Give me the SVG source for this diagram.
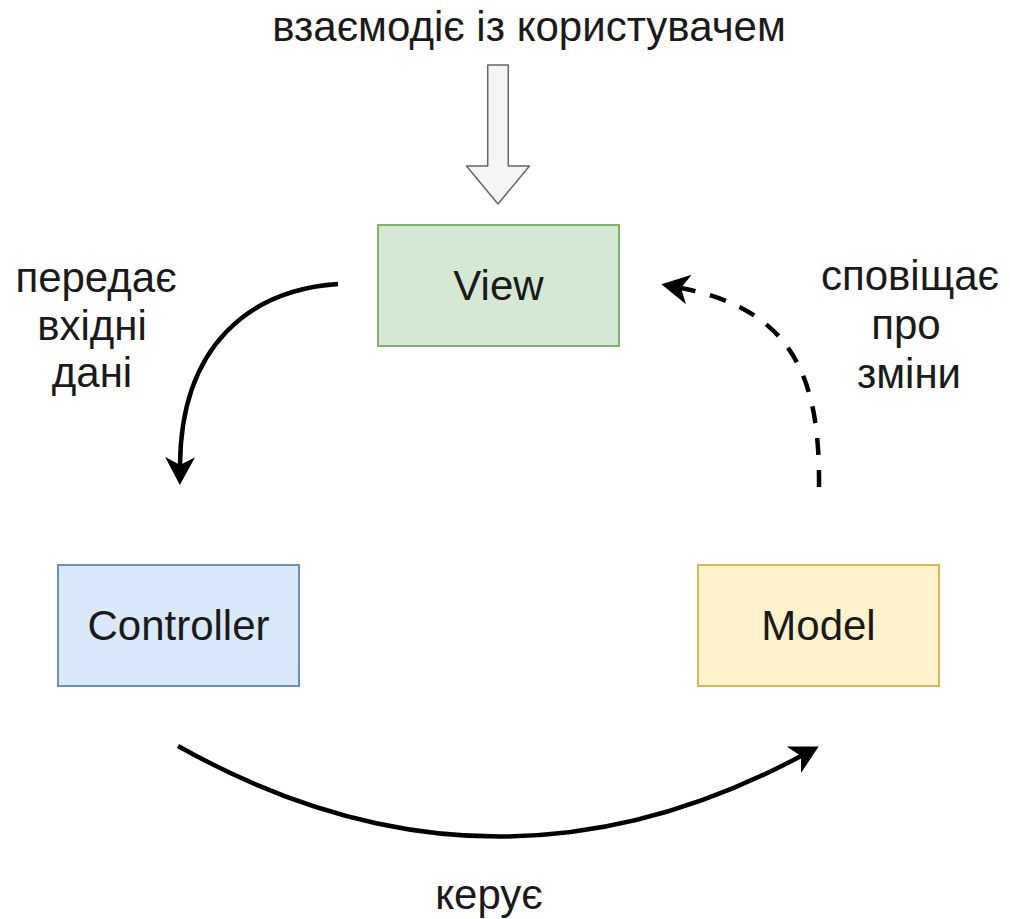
<svg xmlns="http://www.w3.org/2000/svg" width="1010" height="919" viewBox="0 0 1010 919">
  <style>
    text { font-family: "Liberation Sans", Arial, Helvetica, sans-serif; font-size: 42px; fill: #1a1a1a; text-anchor: middle; }
    .box { stroke-width: 2; }
    .edge { fill: none; stroke: #000000; stroke-width: 4.5; }
    .dashed { stroke-dasharray: 17 15; }
  </style>
  <defs>
    <marker id="arr" markerUnits="userSpaceOnUse" markerWidth="30" markerHeight="32" viewBox="0 0 30 32" refX="8" refY="16" orient="auto">
      <path d="M0,1 L28,16 L0,31 L8,16 Z" fill="#000000" stroke="none"/>
    </marker>
  </defs>
  <rect width="1010" height="919" fill="#ffffff"/>

  <g id="user-label">
    <text x="529" y="41">взаємодіє із користувачем</text>
  </g>

  <g id="user-arrow">
    <polygon points="487.7,65 508.3,65 508.3,166 529.5,166 498,204 466.5,166 487.7,166" fill="#f5f5f5" stroke="#666666" stroke-width="1.5" stroke-linejoin="round"/>
  </g>

  <g id="view">
    <rect class="box" x="378" y="225" width="241" height="121" fill="#d5e8d4" stroke="#82b366"/>
    <text x="498.5" y="300">View</text>
  </g>

  <g id="controller">
    <rect class="box" x="58" y="565" width="241" height="121" fill="#dae8fc" stroke="#6c8ebf"/>
    <text x="178.5" y="640">Controller</text>
  </g>

  <g id="model">
    <rect class="box" x="698" y="565" width="241" height="121" fill="#fff2cc" stroke="#d6b656"/>
    <text x="818.5" y="640">Model</text>
  </g>

  <g id="connectors">
    <path class="edge" d="M338,284 C250,290 181,345 180,465" marker-end="url(#arr)"/>
    <path class="edge dashed" d="M819,487 C820,380 795,310 681,288" marker-end="url(#arr)"/>
    <path class="edge" d="M178,746 Q491,922 801,756" marker-end="url(#arr)"/>
  </g>

  <g id="label-input">
    <text x="96" y="292">передає</text>
    <text x="92" y="340">вхідні</text>
    <text x="92" y="387">дані</text>
  </g>

  <g id="label-notify">
    <text x="910" y="290">сповіщає</text>
    <text x="906" y="339">про</text>
    <text x="909" y="388">зміни</text>
  </g>

  <g id="label-control">
    <text x="489" y="909">керує</text>
  </g>
</svg>
